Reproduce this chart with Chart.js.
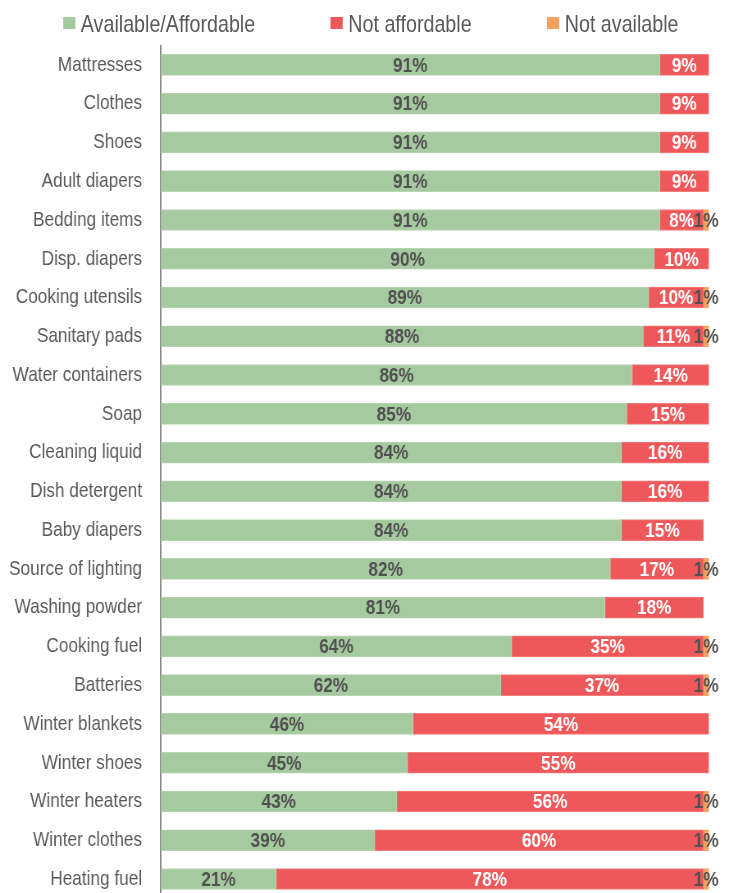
<!DOCTYPE html>
<html>
<head>
<meta charset="utf-8">
<script src="https://cdn.jsdelivr.net/npm/chart.js@4"></script>
<style>
  html, body { margin: 0; padding: 0; background: #ffffff; overflow: hidden; }
  /* the whole figure is set in a condensed style: drawn wide, then narrowed */
  #wrap { position: relative; width: 890px; height: 893px; overflow: hidden; transform: scaleX(0.82); transform-origin: 0 0; }
  #legend {
    position: absolute; top: 9px; left: 0; width: 890px;
    display: flex; justify-content: flex-start; gap: 92px; padding-left: 77px; box-sizing: border-box;
    font-family: "Liberation Sans", Arial, sans-serif;
    font-size: 24px; color: #595959; line-height: 30px;
  }
  #legend .item { display: flex; align-items: center; white-space: nowrap; }
  #legend .box { width: 14.6px; height: 12px; margin-right: 7px; margin-top: -2px; }
  canvas { position: absolute; top: 0; left: 0; }
</style>
</head>
<body>
<div id="wrap">
  <canvas id="chart" width="890" height="934"></canvas>
  <div id="legend"></div>
</div>
<script>
const categories = [
  'Mattresses', 'Clothes', 'Shoes', 'Adult diapers', 'Bedding items', 'Disp. diapers',
  'Cooking utensils', 'Sanitary pads', 'Water containers', 'Soap', 'Cleaning liquid',
  'Dish detergent', 'Baby diapers', 'Source of lighting', 'Washing powder', 'Cooking fuel',
  'Batteries', 'Winter blankets', 'Winter shoes', 'Winter heaters', 'Winter clothes', 'Heating fuel'
];
const availableAffordable = [91, 91, 91, 91, 91, 90, 89, 88, 86, 85, 84, 84, 84, 82, 81, 64, 62, 46, 45, 43, 39, 21];
const notAffordable       = [9, 9, 9, 9, 8, 10, 10, 11, 14, 15, 16, 16, 15, 17, 18, 35, 37, 54, 55, 56, 60, 78];
const notAvailable        = [0, 0, 0, 0, 1, 0, 1, 1, 0, 0, 0, 0, 0, 1, 0, 1, 1, 0, 0, 1, 1, 1];

const seriesNames = ['Available/Affordable', 'Not affordable', 'Not available'];
const seriesColors = ['#a6ca9f', '#ee585a', '#f5a05f'];
const seriesEdges = ['#b6d4b0', '#f27c7d', '#f5a864'];
const labelColors = ['#505050', '#ffffff', '#505050'];

const FONT = '"Liberation Sans", Arial, sans-serif';

// Writes each segment's percentage at the middle of its bar piece
const segmentLabels = {
  id: 'segmentLabels',
  afterDatasetsDraw(chart) {
    const ctx = chart.ctx;
    ctx.save();
    ctx.font = 'bold 21px ' + FONT;
    ctx.textAlign = 'center';
    ctx.textBaseline = 'middle';
    chart.data.datasets.forEach((ds, di) => {
      const meta = chart.getDatasetMeta(di);
      meta.data.forEach((bar, i) => {
        const v = ds.data[i];
        if (!v) return;
        ctx.fillStyle = labelColors[di];
        ctx.fillText(v + '%', (bar.x + bar.base) / 2, bar.y + 1);
      });
    });
    ctx.restore();
  }
};

const chart = new Chart(document.getElementById('chart'), {
  type: 'bar',
  data: {
    labels: categories,
    datasets: seriesNames.map((name, k) => ({
      label: name,
      data: [availableAffordable, notAffordable, notAvailable][k],
      backgroundColor: seriesColors[k],
      borderColor: seriesEdges[k],
      borderWidth: 1,
      borderSkipped: false
    }))
  },
  options: {
    indexAxis: 'y',
    responsive: false,
    animation: false,
    devicePixelRatio: 1,
    barThickness: 21,
    layout: { padding: { left: 0, right: 25.4, top: 45.5, bottom: 1.5 } },
    plugins: {
      legend: { display: false },
      tooltip: { enabled: false }
    },
    scales: {
      x: { stacked: true, min: 0, max: 100, display: false },
      y: {
        stacked: true,
        grid: { display: false, drawTicks: false },
        border: { display: true, color: '#8a8a8a', width: 2 },
        ticks: {
          color: '#595959',
          padding: 23,
          font: { family: FONT, size: 21 }
        },
        afterFit(scale) { scale.width = 196.3; }
      }
    }
  },
  plugins: [segmentLabels]
});

// Legend built from the chart's own datasets
const legendEl = document.getElementById('legend');
chart.data.datasets.forEach(ds => {
  const item = document.createElement('div');
  item.className = 'item';
  const box = document.createElement('span');
  box.className = 'box';
  box.style.background = ds.backgroundColor;
  const txt = document.createElement('span');
  txt.textContent = ds.label;
  item.appendChild(box);
  item.appendChild(txt);
  legendEl.appendChild(item);
});
</script>
</body>
</html>
